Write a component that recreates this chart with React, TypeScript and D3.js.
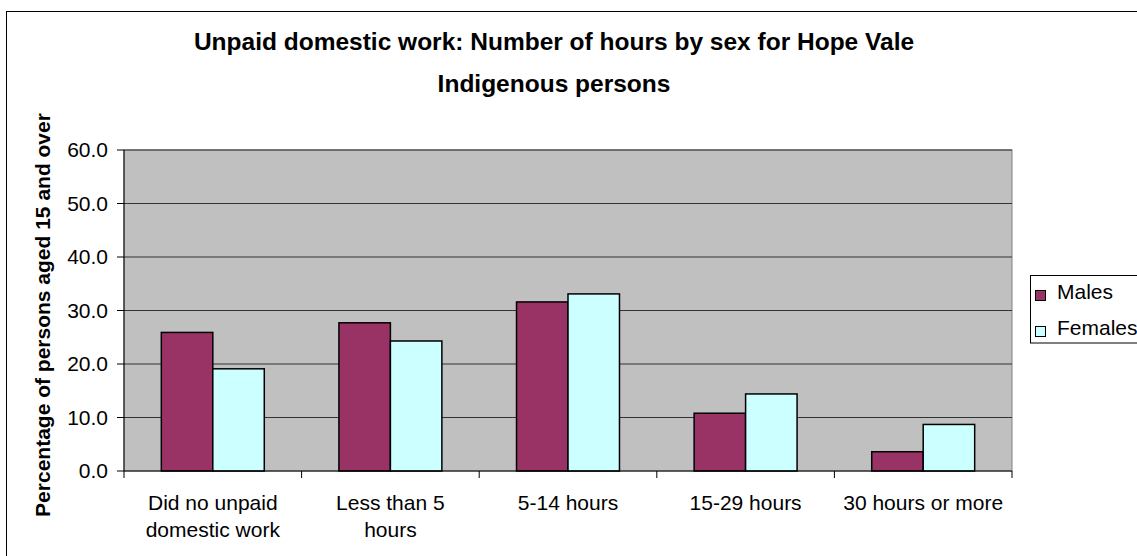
import React from "react";
import * as d3 from "d3";

const categories: string[][] = [
  ["Did no unpaid", "domestic work"],
  ["Less than 5", "hours"],
  ["5-14 hours"],
  ["15-29 hours"],
  ["30 hours or more"],
];
const seriesNames = ["Males", "Females"];
const males = [25.9, 27.7, 31.6, 10.8, 3.6];
const females = [19.1, 24.3, 33.1, 14.4, 8.7];
const yTicks = [0, 10, 20, 30, 40, 50, 60];

const colors = ["#993366", "#CCFFFF"];
const font = "'Liberation Sans', Arial, sans-serif";

export default function App() {
  const W = 1137;
  const H = 556;
  const plot = { left: 124, right: 1012, top: 150, bottom: 471 };

  const keys = categories.map((c) => c.join(" "));
  const x = d3.scaleBand<string>().domain(keys).range([plot.left, plot.right]).padding(0);
  const y = d3.scaleLinear().domain([0, 60]).range([plot.bottom, plot.top]);
  const barW = x.bandwidth() / 3.45;
  const series = [males, females];

  return (
    <svg
      width={W}
      height={H}
      style={{ position: "absolute", left: 0, top: 0, background: "#fff" }}
      fontFamily={font}
    >
      {/* chart frame */}
      <rect x={6.5} y={11.5} width={W + 20} height={H + 20} fill="#fff" stroke="#000" strokeWidth={1} />

      {/* title */}
      <text x={554} y={50} textAnchor="middle" fontSize={24.5} fontWeight="bold">
        Unpaid domestic work: Number of hours by sex for Hope Vale
      </text>
      <text x={554} y={92} textAnchor="middle" fontSize={24.5} fontWeight="bold">
        Indigenous persons
      </text>

      {/* plot area */}
      <rect
        x={plot.left}
        y={plot.top}
        width={plot.right - plot.left}
        height={plot.bottom - plot.top}
        fill="#C0C0C0"
        stroke="#808080"
        strokeWidth={1}
      />
      {yTicks.map((t) => (
        <g key={t}>
          {t > 0 && (
            <line x1={plot.left} x2={plot.right} y1={y(t)} y2={y(t)} stroke="#333" strokeWidth={1} />
          )}
          <line x1={plot.left - 7} x2={plot.left} y1={y(t)} y2={y(t)} stroke="#000" strokeWidth={1} />
          <text x={108} y={y(t)} dy="0.35em" textAnchor="end" fontSize={21}>
            {t.toFixed(1)}
          </text>
        </g>
      ))}

      {/* bars */}
      {keys.map((k, i) => {
        const x0 = (x(k) as number) + x.bandwidth() / 2 - barW;
        return series.map((s, j) => (
          <rect
            key={k + j}
            x={x0 + j * barW}
            y={y(s[i])}
            width={barW}
            height={y(0) - y(s[i])}
            fill={colors[j]}
            stroke="#000"
            strokeWidth={1.5}
          />
        ));
      })}

      {/* axes */}
      <line x1={plot.left} x2={plot.left} y1={plot.top} y2={plot.bottom} stroke="#000" strokeWidth={1} />
      <line x1={plot.left} x2={plot.right} y1={plot.bottom} y2={plot.bottom} stroke="#000" strokeWidth={1} />
      {keys.concat(["end"]).map((k, i) => {
        const xx = i < keys.length ? (x(k) as number) : plot.right;
        return (
          <line key={"t" + i} x1={xx} x2={xx} y1={plot.bottom} y2={plot.bottom + 7} stroke="#000" strokeWidth={1} />
        );
      })}
      {categories.map((lines, i) => (
        <text
          key={"c" + i}
          x={(x(keys[i]) as number) + x.bandwidth() / 2}
          y={510}
          textAnchor="middle"
          fontSize={21}
        >
          {lines.map((ln, li) => (
            <tspan key={li} x={(x(keys[i]) as number) + x.bandwidth() / 2} dy={li === 0 ? 0 : 27}>
              {ln}
            </tspan>
          ))}
        </text>
      ))}

      {/* y axis title */}
      <text
        transform="translate(50, 315) rotate(-90)"
        textAnchor="middle"
        fontSize={21}
        fontWeight="bold"
      >
        Percentage of persons aged 15 and over
      </text>

      {/* legend */}
      <rect x={1030.5} y={275.5} width={140} height={67.5} fill="#fff" stroke="#000" strokeWidth={1} />
      {seriesNames.map((n, j) => (
        <g key={n}>
          <rect x={1035.5} y={290.5 + j * 36} width={10} height={10} fill={colors[j]} stroke="#000" strokeWidth={1} />
          <text x={1057} y={299 + j * 36} fontSize={21}>
            {n}
          </text>
        </g>
      ))}
    </svg>
  );
}
